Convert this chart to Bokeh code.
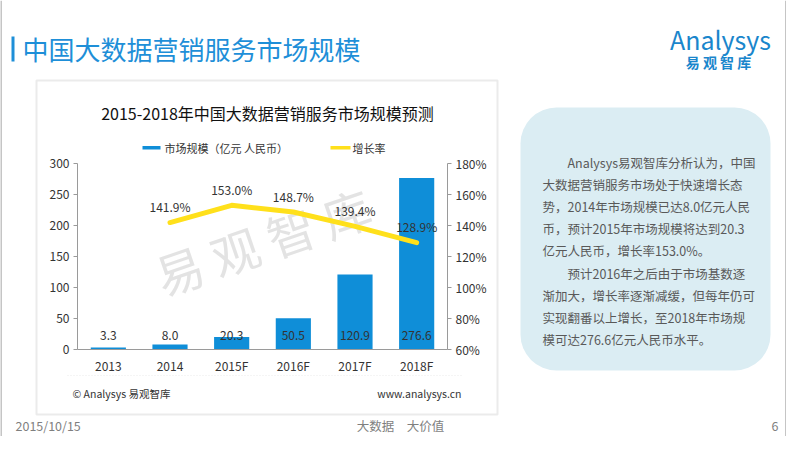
from bokeh.plotting import figure
from bokeh.models import (Range1d, LinearAxis, FixedTicker, PrintfTickFormatter,
                          Label, BoxAnnotation, PolyAnnotation)
from bokeh.core.properties import value
from bokeh.embed import file_html
from bokeh.resources import INLINE

# ---------------- data ----------------
years = ["2013", "2014", "2015F", "2016F", "2017F", "2018F"]
market_size = [3.3, 8.0, 20.3, 50.5, 120.9, 276.6]
growth_years = ["2014", "2015F", "2016F", "2017F", "2018F"]
growth_rate = [141.9, 153.0, 148.7, 139.4, 128.9]
left_ticks = [0, 50, 100, 150, 200, 250, 300]
right_ticks = [60, 80, 100, 120, 140, 160, 180]

page_title = "中国大数据营销服务市场规模"
chart_title = "2015-2018年中国大数据营销服务市场规模预测"
legend_bar = "市场规模（亿元 人民币）"
legend_line = "增长率"
note_lines = [
    "　　Analysys易观智库分析认为，中国",
    "大数据营销服务市场处于快速增长态",
    "势，2014年市场规模已达8.0亿元人民",
    "币，预计2015年市场规模将达到20.3",
    "亿元人民币，增长率153.0%。",
    "　　预计2016年之后由于市场基数逐",
    "渐加大，增长率逐渐减缓，但每年仍可",
    "实现翻番以上增长，至2018年市场规",
    "模可达276.6亿元人民币水平。",
]
footer_date = "2015/10/15"
footer_mid = "大数据　大价值"
footer_page = "6"
source_left = "© Analysys 易观智库"
source_right = "www.analysys.cn"
watermark = "易 观 智 库"

FONT = "Noto Sans CJK SC"
BAR_COLOR = "#0f8ed8"
LINE_COLOR = "#ffe01b"
BLUE = "#1e8fd8"

# ---------------- geometry (canvas pixels, from top-left) ----------------
W, H = 786, 436
FL, FR, FT, FB = 77, 447, 163, 349   # chart plot area
VMIN, VMAX = 0, 300
PMIN, PMAX = 60, 180
ncat = len(years)

sx = (FR - FL) / ncat
kv = (FB - FT) / (VMAX - VMIN)
kp = (FB - FT) / (PMAX - PMIN)

p = figure(width=W, height=H, x_range=Range1d(0, W), y_range=Range1d(H, 0),
           x_axis_type=None, y_axis_type=None, output_backend="svg",
           toolbar_location=None, min_border=0)
p.outline_line_color = None
p.grid.visible = False
p.background_fill_color = "white"
p.border_fill_color = "white"

p.extra_x_ranges = {"cat": Range1d(-FL / sx, (W - FL) / sx)}
p.extra_y_ranges = {
    "val": Range1d(VMIN - (H - FB) / kv, VMAX + FT / kv),
    "pct": Range1d(PMIN - (H - FB) / kp, PMAX + FT / kp),
}

xpos = {c: i + 0.5 for i, c in enumerate(years)}
bar_x = [xpos[c] for c in years]
line_x = [xpos[c] for c in growth_years]


def box(l, r, t, b, **kw):
    return BoxAnnotation(left=l, right=r, top=t, bottom=b, **kw)


def label(X, Y, text, size, color="#333333", align="left", **kw):
    return Label(x=X, y=Y, text=text, text_align=align, text_baseline="middle",
                 text_font=FONT, text_font_size=size, text_color=color, **kw)


# watermark
p.add_layout(Label(x=262, y=240, text=watermark, angle=0.33, text_align="center",
                   text_baseline="middle", text_font=FONT, text_font_size="48px",
                   text_color="#e3e3e3", level="underlay"))

# bars + labels
p.vbar(x=bar_x, top=market_size, bottom=0, width=0.57, color=BAR_COLOR,
       line_color=None, x_range_name="cat", y_range_name="val")
p.text(x=bar_x, y=[0] * ncat, text=[f"{v:.1f}" for v in market_size],
       x_range_name="cat", y_range_name="val",
       y_offset=-14, text_align="center", text_baseline="middle",
       text_font=value(FONT), text_font_size="12px", text_color="#333333")

# growth line + labels
p.line(x=line_x, y=growth_rate, x_range_name="cat", y_range_name="pct",
       line_color=LINE_COLOR, line_width=5, line_cap="round", line_join="round")
p.text(x=line_x, y=growth_rate, x_range_name="cat", y_range_name="pct",
       text=[f"{v:.1f}%" for v in growth_rate], y_offset=-16,
       text_align="center", text_baseline="middle",
       text_font=value(FONT), text_font_size="12px", text_color="#333333")

# axes
left = LinearAxis(y_range_name="val", fixed_location=FL, bounds=(VMIN, VMAX),
                  ticker=FixedTicker(ticks=left_ticks))
right = LinearAxis(y_range_name="pct", fixed_location=FR, bounds=(PMIN, PMAX),
                   ticker=FixedTicker(ticks=right_ticks),
                   formatter=PrintfTickFormatter(format="%d%%"))
bottom = LinearAxis(x_range_name="cat", fixed_location=FB, bounds=(0, ncat),
                    ticker=FixedTicker(ticks=bar_x),
                    major_label_overrides={xpos[c]: c for c in years})
for ax in (left, right, bottom):
    ax.axis_line_color = "#9a9a9a"
    ax.major_tick_line_color = "#9a9a9a"
    ax.major_tick_out = 4
    ax.major_tick_in = 0
    ax.minor_tick_line_color = None
    ax.major_label_text_font = FONT
    ax.major_label_text_font_size = "12px"
    ax.major_label_text_color = "#333333"
    ax.major_label_standoff = 4
bottom.major_tick_line_color = None
bottom.major_tick_out = 0
bottom.major_label_standoff = 7
p.add_layout(left, "left")
p.add_layout(right, "right")
p.add_layout(bottom, "below")

# slide border (left and right edges)
p.add_layout(box(0, 1, 0, H, fill_color="#8c8c8c", fill_alpha=1, line_color=None))
p.add_layout(box(W - 1, W, 0, H, fill_color="#8c8c8c", fill_alpha=1, line_color=None))

# page title
p.add_layout(box(11, 14, 36, 61, fill_color=BLUE, fill_alpha=1, line_color=None))
p.add_layout(label(22, 48, page_title, "26px", color=BLUE))

# logo
p.add_layout(label(720, 38, "Analysys", "25px", color="#1a86cc", align="center"))
p.add_layout(label(718, 61, "易 观 智 库", "14px", color="#1a86cc", align="center",
                   text_font_style="bold"))

# chart frame
p.add_layout(box(36, 497, 80, 414, fill_alpha=0, line_color="#bdbdbd", line_width=2))
p.add_layout(label(267, 112, chart_title, "16px", color="#111111", align="center"))

# legend
p.add_layout(box(142, 160, 145.5, 149, fill_color=BAR_COLOR, fill_alpha=1, line_color=None))
p.add_layout(label(164, 147, legend_bar, "11px"))
p.add_layout(box(330, 350, 145.5, 149, fill_color=LINE_COLOR, fill_alpha=1, line_color=None))
p.add_layout(label(352, 147, legend_line, "11px"))

# separator and sources
p.add_layout(PolyAnnotation(xs=[67, 463], ys=[375, 375], fill_alpha=0,
                            line_color="#bbbbbb", line_width=1, line_dash="1 2"))
p.add_layout(label(72, 393, source_left, "10.5px"))
p.add_layout(label(461, 393, source_right, "10.5px", align="right"))

# note box
p.add_layout(box(520, 770, 107, 370, fill_color="#dbedf3", fill_alpha=1,
                 line_color=None, border_radius=36))
for i, t in enumerate(note_lines):
    p.add_layout(label(542, 162 + i * 22.1, t, "12.5px", color="#595959"))

# footer
p.add_layout(label(15, 425, footer_date, "12.5px", color="#7f7f7f"))
p.add_layout(label(400, 425, footer_mid, "12.5px", color="#7f7f7f", align="center"))
p.add_layout(label(778, 425, footer_page, "12.5px", color="#7f7f7f", align="right"))

open("out.html", "w").write(file_html(p, INLINE))
